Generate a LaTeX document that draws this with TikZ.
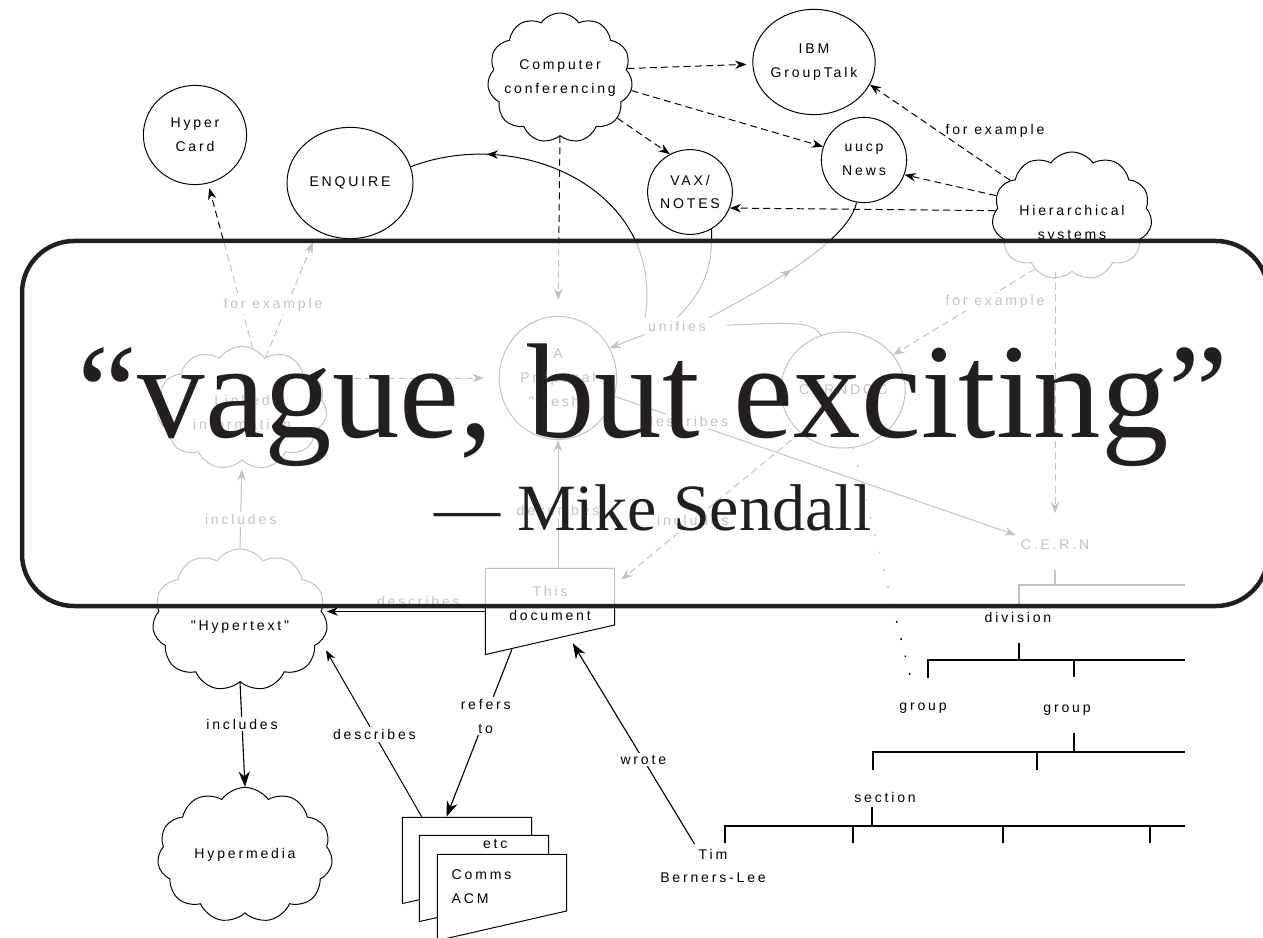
\documentclass[tikz,border=0pt]{standalone}
\usepackage{fontspec}
\usetikzlibrary{shapes.geometric,shapes.symbols,arrows.meta,decorations.markings}

\newfontfamily\pixfont[LetterSpace=20]{Liberation Sans}
\newfontfamily\quotefont{Liberation Serif}
\definecolor{ink}{HTML}{231F20}

\tikzset{
	every node/.style={font=\pixfont\fontsize{10}{17}\selectfont, align=center},
	bubble/.style={draw, ellipse, line width=0.7pt, inner sep=0pt},
	puff/.style={draw, cloud, cloud puffs=11, cloud puff arc=110, cloud ignores aspect, line width=0.7pt, inner sep=0pt},
	docpage/.style={inner sep=0pt, minimum width=3.25cm, minimum height=2.175cm,
		path picture={\filldraw[fill=white, line width=0.7pt]
			([shift={(0.35pt,-0.35pt)}]path picture bounding box.north west)
			-- ([shift={(-0.35pt,-0.35pt)}]path picture bounding box.north east)
			-- ([shift={(-0.35pt,0.75cm)}]path picture bounding box.south east)
			-- ([shift={(0.35pt,0.35pt)}]path picture bounding box.south west) -- cycle;}},
	tag/.style={fill=white, inner sep=1.5pt},
	link/.style={line width=0.7pt, -{Stealth[length=8pt,width=6pt]}},
	dlink/.style={link, dash pattern=on 5pt off 3pt},
	biglink/.style={line width=0.8pt, -{Stealth[length=11pt,width=8pt]}},
	midarrow/.style={line width=0.7pt, postaction={decorate},
		decoration={markings, mark=at position #1 with {\arrow{Stealth[length=8pt,width=6pt]}}}},
	tree/.style={line width=0.8pt}
}

\begin{document}
\begin{tikzpicture}[x=0.025cm, y=-0.025cm]
	\useasboundingbox (0,0) rectangle (1263,938);
	\clip (0,0) rectangle (1263,938);
	% bubbles and clouds
	\node[bubble, minimum width=2.58cm, minimum height=2.48cm] (hypercard) at (195,135) {Hyper\\Card};
	\node[bubble, minimum width=3.15cm, minimum height=2.78cm] (enquire) at (350,183) {ENQUIRE};
	\node[puff, minimum width=3.63cm, minimum height=3.25cm, label={center:Computer\\conferencing}] (confer) at (560,78) {};
	\node[bubble, minimum width=2.83cm, minimum height=2.63cm] (grouptalk) at (814,62) {IBM\\GroupTalk};
	\node[bubble, minimum size=2.12cm] (vaxnotes) at (690,192) {VAX/\\NOTES};
	\node[bubble, minimum size=2.13cm] (uucp) at (864,160) {uucp\\News};
	\node[puff, minimum width=4cm, minimum height=3.2cm, label={[yshift=-0.2cm]center:Hierarchical\\systems}] (hier) at (1072,216) {};
	\node[puff, minimum width=4.25cm, minimum height=3.08cm, label={[yshift=-0.12cm]center:Linked\\information}] (linked) at (242,408) {};
	\node[bubble, minimum width=2.93cm, minimum height=3.08cm] (mesh) at (558,378) {A\\Proposal\\"Mesh"};
	\node[bubble, minimum width=3.03cm, minimum height=2.9cm] (cerndoc) at (843,390) {CERNDOC};
	\node[puff, minimum width=4.38cm, minimum height=3.55cm, label={[yshift=-0.18cm]center:"Hypertext"}] (hypertext) at (240,620) {};
	\node[puff, minimum width=4.38cm, minimum height=3.38cm, label={center:Hypermedia}] (hypermedia) at (245,855) {};
	% documents
	\node[docpage, label={[yshift=0.2cm]center:This\\document}] (doc) at (550,611.5) {};
	\node[docpage] (docA) at (467,860.5) {};
	\node[docpage, label={[anchor=north, xshift=0.28cm]north:etc}] (docB) at (484,878.5) {};
	\node[docpage, label={[anchor=north west, align=left, xshift=0.25cm, yshift=-0.28cm]north west:Comms\\ACM}] (docC) at (502,897.5) {};
	% plain labels
	\node (tim) at (713,866) {Tim\\Berners-Lee};
	\node (cern) at (1055,545) {C.E.R.N};
	\node (division) at (1018,617) {division};
	\node (group1) at (923,708) {group};
	\node (group2) at (1067,710) {group};
	\node (section) at (885,797) {section};
	\node (fe2) at (995,131) {for example};
	\node[inner sep=2pt] (uni) at (677,326) {unifies};
	% computer conferencing
	\draw[dlink, shorten >=0.15cm] (confer.8) -- (grouptalk.182);
	\draw[dlink] (confer.-35) -- (vaxnotes.118);
	\draw[dlink] (confer.-10) -- (uucp.162);
	\draw[dlink, shorten >=0.4cm] (confer.south) -- (mesh.north);
	% hierarchical systems
	\draw[dlink] (hier.150) -- (grouptalk.-22);
	\draw[dlink] (hier.165) -- (uucp.-20);
	\draw[dlink] (hier.176) -- (vaxnotes.-22);
	\draw[dlink] (hier.-125) -- (cerndoc.35);
	\node[tag] (fe3) at (995,302) {for example};
	\draw[dlink, shorten >=0.55cm] (cern |- hier.south) -- (cern);
	% linked information
	\draw[dlink, shorten >=0.12cm] (linked.80) -- (hypercard.-75);
	\draw[dlink, shorten >=0.3cm] (linked.65) -- (enquire.-124);
	\node[tag] (fe1) at (273,305) {for example};
	\draw[dlink, shorten <=0.4cm, shorten >=0.38cm] (linked.east |- mesh.west) -- (mesh.west);
	% hypertext
	\draw[link, shorten >=0.22cm] (hypertext.north) -- (linked.south) node[tag, pos=0.33] {includes};
	\draw[biglink] (hypertext.south) -- (hypermedia.north) node[tag, pos=0.4] {includes};
	% unifies
	\draw[midarrow=0.77] (uni.north west) .. controls (665,190) and (520,125) .. (enquire.15);
	\draw[line width=0.7pt] (uni.north) .. controls (705,290) and (713,265) .. (vaxnotes.-60);
	\draw[midarrow=0.5] (uni.north east) .. controls (790,275) and (850,235) .. (uucp.-100);
	\draw[line width=0.7pt, shorten <=0.45cm] (uni.east) .. controls (800,322) and (812,322) .. (cerndoc.112);
	\draw[link] (uni.south west) -- (mesh.30);
	% describes
	\draw[link] (mesh.-18) -- (cern.north west) node[tag, pos=0.18] {describes};
	\draw[link] (mesh.south |- doc.north) -- (mesh.south) node[tag, pos=0.45] {describes};
	\draw[dlink] (cerndoc.-135) -- ([xshift=0.15cm, yshift=-0.3cm]doc.north east) node[tag, pos=0.6] {includes};
	\draw[link] (doc.west) -- (doc.west -| hypertext.east) node[above, pos=0.42] {describes};
	\draw[biglink] ([xshift=0.68cm, yshift=0.15cm]doc.south west) -- ([xshift=1.12cm]docA.north west) node[tag, pos=0.4] {refers\\to};
	\draw[link, shorten >=0.25cm] ([xshift=0.5cm]docA.north west) -- (hypertext.-15) node[tag, pos=0.47] {describes};
	\draw[biglink] (tim.130) -- ([xshift=2.2cm, yshift=0.3cm]doc.south west) node[tag, pos=0.42] {wrote};
	\coordinate (dotend) at (910,675);
	\draw[line width=1pt, dash pattern=on 1.2pt off 11.5pt] (cerndoc.-80) -- (dotend);
	% C.E.R.N tree
	\draw[tree] (1055,570) -- (1055,585) (1019,604) -- (1019,585) -- (1185,585);
	\draw[tree] (1019,643) -- (1019,660) (928,678) -- (928,660) -- (1185,660) (1074,660) -- (1074,677);
	\draw[tree] (1074,733) -- (1074,752) (873,770) -- (873,752) -- (1185,752) (1037,752) -- (1037,770);
	\draw[tree] (872,807) -- (872,826) (725,843) -- (725,826) -- (1185,826);
	\foreach \x in {853,1003,1150} \draw[tree] (\x,826) -- (\x,843);
	% quote box
	\fill[white, fill opacity=0.76, rounded corners=1.3cm] (22,241) rectangle (1268,606);
	\draw[ink, line width=3.2pt, rounded corners=1.3cm] (22,241) rectangle (1268,606);
	\node[ink, anchor=base, font=\quotefont\fontsize{96}{100}\selectfont] (quote) at (653,437) {“vague, but exciting”};
	\node[ink, anchor=base, font=\quotefont\fontsize{47}{50}\selectfont] (author) at (653,530) {— Mike Sendall};
\end{tikzpicture}
\end{document}
